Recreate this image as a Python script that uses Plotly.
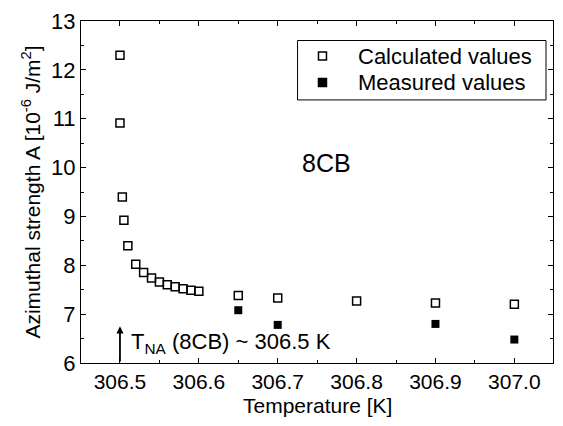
import plotly.graph_objects as go

calc_T = [306.500, 306.500, 306.503, 306.505, 306.510, 306.520, 306.530, 306.540,
          306.550, 306.560, 306.570, 306.580, 306.590, 306.600, 306.650, 306.700,
          306.800, 306.900, 307.000]
calc_A = [12.30, 10.91, 9.40, 8.92, 8.40, 8.02, 7.85, 7.74,
          7.66, 7.60, 7.56, 7.52, 7.49, 7.47, 7.38, 7.33,
          7.27, 7.23, 7.20]
meas_T = [306.65, 306.70, 306.90, 307.00]
meas_A = [7.08, 6.78, 6.80, 6.48]
legend_names = ["Calculated values", "Measured values"]

FONT = "Liberation Sans, Arial, sans-serif"

fig = go.Figure()
fig.add_trace(go.Scatter(x=calc_T, y=calc_A, mode="markers", name=legend_names[0],
                         showlegend=False,
                         marker=dict(symbol="square-open", size=8, color="black",
                                     line=dict(width=1.5, color="black"))))
fig.add_trace(go.Scatter(x=meas_T, y=meas_A, mode="markers", name=legend_names[1],
                         showlegend=False,
                         marker=dict(symbol="square", size=8, color="black")))

fig.add_annotation(x=306.5, y=6.75, ax=306.5, ay=6.0, xref="x", yref="y",
                   axref="x", ayref="y", showarrow=True, arrowhead=2,
                   arrowsize=0.8, arrowwidth=1.8, arrowcolor="black", text="")
fig.add_annotation(x=306.511, y=6.40, xref="x", yref="y", xanchor="left",
                   showarrow=False,
                   text="T<sub>NA</sub> (8CB) ~ 306.5 K",
                   font=dict(family=FONT, size=22, color="black"))
fig.add_annotation(x=306.762, y=10.1, xref="x", yref="y", showarrow=False,
                   text="8CB", font=dict(family=FONT, size=25, color="black"))
fig.add_annotation(x=0.5, y=-0.124, xref="paper", yref="paper", yanchor="middle",
                   showarrow=False, text="Temperature [K]",
                   font=dict(family=FONT, size=21, color="black"))

# custom legend (box, swatches, labels)
fig.add_shape(type="rect", xref="paper", yref="paper", x0=0.4588, x1=0.9852,
              y0=0.7692, y1=0.943, line=dict(color="black", width=1),
              fillcolor="white", layer="above")
row_y = [0.8974, 0.8205]
fills = ["white", "black"]
for name, yy, fc in zip(legend_names, row_y, fills):
    fig.add_shape(type="rect", xref="paper", yref="paper", xsizemode="pixel",
                  ysizemode="pixel", xanchor=0.5116, yanchor=yy,
                  x0=-4, x1=4, y0=-4, y1=4, fillcolor=fc,
                  line=dict(color="black", width=1.5), layer="above")
    fig.add_annotation(x=0.5835, y=yy, xref="paper", yref="paper", xanchor="left",
                       yanchor="middle", showarrow=False, text=name,
                       font=dict(family=FONT, size=22, color="black"))

axis_common = dict(showline=True, linecolor="black", linewidth=1, mirror="ticks",
                   ticks="inside", ticklen=5, tickcolor="black", showgrid=False,
                   zeroline=False, ticklabeloverflow="allow")

fig.update_xaxes(range=[306.4506, 307.049], tick0=306.5, dtick=0.1, tickformat=".1f",
                 tickfont=dict(family=FONT, size=21, color="black"),
                 minor=dict(dtick=0.05, tick0=306.5, ticks="inside", ticklen=3, tickcolor="black"),
                 **axis_common)
fig.update_yaxes(range=[5.9999, 13.0001], dtick=1, tick0=6,
                 tickfont=dict(family=FONT, size=22, color="black"),
                 minor=dict(dtick=0.5, ticks="inside", ticklen=3, tickcolor="black"),
                 title=dict(text="Azimuthal strength A [10<sup>-6</sup> J/m<sup>2</sup>]",
                            font=dict(family=FONT, size=21, color="black"), standoff=4),
                 **axis_common)

fig.update_layout(
    width=563, height=426,
    margin=dict(l=81, r=9, t=12, b=63),
    plot_bgcolor="white", paper_bgcolor="white",
    font=dict(family=FONT, color="black"),
    showlegend=False,
)

fig.write_html("out.html")
